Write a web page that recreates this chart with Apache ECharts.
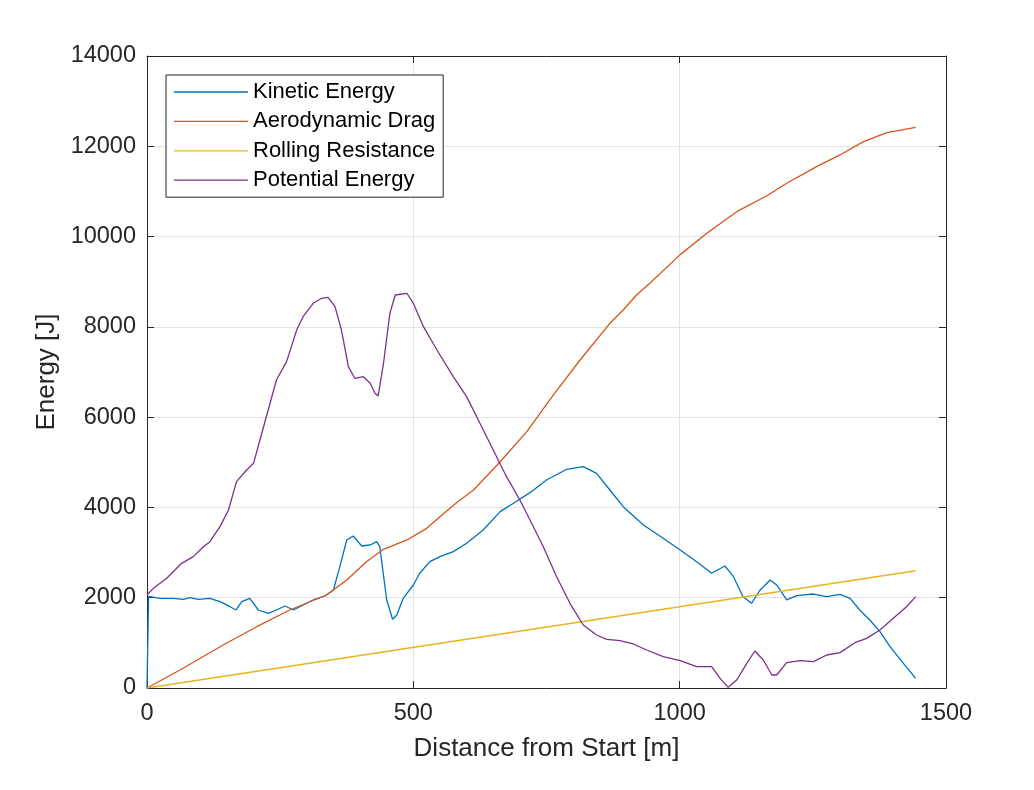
<!DOCTYPE html>
<html>
<head>
<meta charset="utf-8">
<script src="https://cdn.jsdelivr.net/npm/echarts@6/dist/echarts.min.js"></script>
<style>
html,body{margin:0;padding:0;background:#fff;}
#chart{width:1034px;height:790px;}
</style>
</head>
<body>
<div id="chart"></div>
<script>
// ---- data ----
var seriesNames = ['Kinetic Energy', 'Aerodynamic Drag', 'Rolling Resistance', 'Potential Energy'];
var xTicks = [0, 500, 1000, 1500];
var yTicks = [0, 2000, 4000, 6000, 8000, 10000, 12000, 14000];

var keDist = [0,3,6,24,49,68,81,96,118,137,156,167,178,193,209,228,243,259,275,293,312,334,350,362,375,387,403,419,431,437,450,461,469,481,500,512,531,550,575,600,631,663,688,719,750,788,819,844,869,894,932,969,1001,1032,1060,1085,1101,1119,1135,1151,1170,1182,1201,1220,1251,1276,1301,1320,1338,1357,1376,1395,1420,1443];
var keVal  = [0,2030,2023,1987,1987,1965,2000,1965,1987,1912,1801,1728,1912,1987,1728,1654,1728,1817,1728,1839,1950,2038,2171,2688,3279,3367,3146,3168,3241,3130,1950,1522,1617,1987,2282,2541,2798,2910,3020,3205,3500,3906,4092,4327,4608,4845,4903,4756,4386,4017,3611,3316,3057,2798,2541,2703,2466,2023,1876,2171,2393,2282,1950,2045,2082,2023,2075,1987,1728,1506,1248,915,547,214];

var adDist = [0,62,143,206,268,337,375,412,444,488,525,550,584,613,663,713,763,813,869,894,919,944,1001,1051,1107,1163,1201,1257,1301,1345,1389,1443];
var adVal  = [0,399,953,1358,1728,2060,2393,2798,3072,3279,3537,3795,4130,4386,5013,5678,6491,7266,8079,8374,8706,8966,9600,10073,10552,10899,11181,11549,11808,12103,12302,12421];

var rrDist = [0,1443];
var rrVal  = [0,2597];

var peDist = [0,12,37,65,87,106,118,137,153,168,187,200,212,231,243,262,281,293,312,328,340,353,365,378,390,406,419,428,434,444,456,466,488,500,519,537,550,575,600,625,650,675,700,719,744,769,794,819,844,863,888,913,938,969,1001,1032,1060,1076,1091,1107,1126,1141,1157,1173,1182,1201,1226,1251,1276,1301,1329,1351,1376,1401,1426,1443];
var peVal  = [2060,2208,2430,2762,2910,3130,3241,3574,3943,4571,4829,4977,5494,6307,6823,7229,7931,8225,8522,8633,8655,8447,7931,7118,6861,6896,6750,6528,6469,7193,8301,8706,8744,8522,8004,7636,7377,6896,6454,5864,5272,4681,4165,3722,3130,2466,1876,1396,1174,1078,1048,975,842,694,605,472,472,214,15,177,547,820,620,288,288,561,605,583,731,783,1004,1100,1285,1544,1801,2023];

var colors = ['#0072BD', '#D95319', '#EDB120', '#7E2F8E'];

function pairs(xs, ys) { return xs.map(function (x, i) { return [x, ys[i]]; }); }

var chart = echarts.init(document.getElementById('chart'), null, { renderer: 'canvas' });
var font = 'Liberation Sans, Arial, Helvetica, sans-serif';
var axisColor = '#262626';

function mkSeries(name, xs, ys, color) {
  return {
    name: name, type: 'line', data: pairs(xs, ys),
    symbol: 'none', showSymbol: false, smooth: false, animation: false,
    lineStyle: { color: color, width: 1.3 }, itemStyle: { color: color },
    xAxisIndex: 0, yAxisIndex: 0
  };
}

var option = {
  backgroundColor: '#ffffff',
  animation: false,
  textStyle: { fontFamily: font },
  color: colors,
  grid: { left: 147, top: 56, width: 799, height: 632, containLabel: false },
  legend: {
    orient: 'vertical', left: 166, top: 75,
    data: seriesNames.map(function (n) { return { name: n, icon: 'rect' }; }),
    padding: [5, 8, 5, 8],
    itemGap: 5.4, itemWidth: 74, itemHeight: 1.3,
    borderColor: axisColor, borderWidth: 1, borderRadius: 0,
    backgroundColor: '#ffffff',
    textStyle: { fontSize: 22, color: '#000', fontFamily: font, lineHeight: 24 }
  },
  xAxis: [{
    type: 'value', min: 0, max: 1500, interval: 500,
    name: 'Distance from Start [m]', nameLocation: 'middle', nameGap: 48,
    nameTextStyle: { fontSize: 26, color: axisColor, fontFamily: font },
    axisLine: { show: true, onZero: false, lineStyle: { color: axisColor, width: 1 } },
    axisTick: { show: true, inside: true, length: 7, lineStyle: { color: axisColor } },
    axisLabel: { fontSize: 23.5, color: axisColor, margin: 14, fontFamily: font,
      formatter: function (v) { return String(v); } },
    splitLine: { show: true, lineStyle: { color: '#e3e3e3', width: 1 } }
  }, {
    type: 'value', min: 0, max: 1500, interval: 500, position: 'top',
    axisLine: { show: true, onZero: false, lineStyle: { color: axisColor, width: 1 } },
    axisTick: { show: true, inside: true, length: 7, lineStyle: { color: axisColor } },
    axisLabel: { show: false }, splitLine: { show: false }
  }],
  yAxis: [{
    type: 'value', min: 0, max: 14000, interval: 2000,
    name: 'Energy [J]', nameLocation: 'middle', nameGap: 87,
    nameTextStyle: { fontSize: 26, color: axisColor, fontFamily: font },
    axisLine: { show: true, onZero: false, lineStyle: { color: axisColor, width: 1 } },
    axisTick: { show: true, inside: true, length: 7, lineStyle: { color: axisColor } },
    axisLabel: { fontSize: 23.5, color: axisColor, margin: 11, fontFamily: font,
      formatter: function (v) { return String(v); } },
    splitLine: { show: true, lineStyle: { color: '#e3e3e3', width: 1 } }
  }, {
    type: 'value', min: 0, max: 14000, interval: 2000, position: 'right',
    axisLine: { show: true, onZero: false, lineStyle: { color: axisColor, width: 1 } },
    axisTick: { show: true, inside: true, length: 7, lineStyle: { color: axisColor } },
    axisLabel: { show: false }, splitLine: { show: false }
  }],
  series: [
    mkSeries(seriesNames[0], keDist, keVal, colors[0]),
    mkSeries(seriesNames[1], adDist, adVal, colors[1]),
    mkSeries(seriesNames[2], rrDist, rrVal, colors[2]),
    mkSeries(seriesNames[3], peDist, peVal, colors[3])
  ]
};
chart.setOption(option);
</script>
</body>
</html>
